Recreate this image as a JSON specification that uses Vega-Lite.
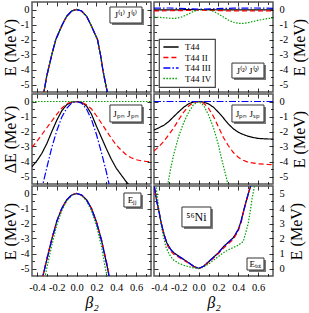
{
"$schema": "https://vega.github.io/schema/vega-lite/v6.json",
"background": "white",
"padding": {"left": 1, "top": 0, "right": 0, "bottom": 0},
"columns": 2,
"spacing": {"row": 2, "column": 3},
"bounds": "flush",
"config": {
  "view": {"stroke": "#555", "strokeWidth": 1.5},
  "axis": {"domain": false, "grid": false, "tickColor": "#000", "tickWidth": 0.8, "labelFont": "Liberation Serif", "labelFontSize": 10.5, "labelColor": "#000", "labelOverlap": false, "labelFlush": false, "labelBound": false, "titleFont": "Liberation Serif", "titleFontWeight": "normal", "titleFontSize": 16, "titleColor": "#000"},
  "legend": {"orient": "none", "legendX": 127, "legendY": 37, "fillColor": "white", "strokeColor": "#444", "strokeWidth": 1.2, "padding": 3, "labelFont": "Liberation Serif", "labelFontSize": 9, "labelColor": "#000", "symbolType": "M-1.9,0H1.9", "symbolSize": 64, "symbolStrokeWidth": 1.3, "symbolOffset": 4, "rowPadding": 0.5, "labelOffset": 9},
  "text": {"font": "Liberation Serif"}
},
"datasets": {
"notes": [
{"p":"a","t":"J⁽¹⁾ J⁽¹⁾","x":0.497,"y":-0.37,"x1":0.336,"x2":0.659,"y1":0.167,"y2":-0.9},
{"p":"b","t":"J⁽²⁾ J⁽²⁾","x":0.497,"y":-4.07,"x1":0.336,"x2":0.659,"y1":-3.57,"y2":-4.57},
{"p":"c","t":"Jₚₙ Jₚₙ","x":0.497,"y":-0.8,"x1":0.336,"x2":0.659,"y1":-0.233,"y2":-1.367},
{"p":"d","t":"Jₚₙ Jₛₚ","x":0.497,"y":-0.8,"x1":0.336,"x2":0.659,"y1":-0.233,"y2":-1.367},
{"p":"e","t":"Eⱼⱼ","x":0.563,"y":-0.43,"x1":0.477,"x2":0.649,"y1":0.033,"y2":-0.9},
{"p":"f","t":"⁵⁶Ni","x":-0.022,"y":3.43,"x1":-0.168,"x2":0.124,"y1":4.1,"y2":2.77},
{"p":"f","t":"Eₜₒₜ","x":0.573,"y":0.3,"x1":0.488,"x2":0.659,"y1":0.7,"y2":-0.1}
],
"curves": [
{"p":"a","m":"T44","b":-0.35,"e":-6},{"p":"a","m":"T44","b":-0.33,"e":-5.5},{"p":"a","m":"T44","b":-0.3,"e":-4.4},{"p":"a","m":"T44","b":-0.25,"e":-3},{"p":"a","m":"T44","b":-0.21,"e":-2},{"p":"a","m":"T44","b":-0.144,"e":-1},{"p":"a","m":"T44","b":-0.1,"e":-0.45},{"p":"a","m":"T44","b":-0.05,"e":-0.1},{"p":"a","m":"T44","b":0,"e":0},{"p":"a","m":"T44","b":0.05,"e":-0.1},{"p":"a","m":"T44","b":0.1,"e":-0.45},{"p":"a","m":"T44","b":0.142,"e":-1},{"p":"a","m":"T44","b":0.21,"e":-2},{"p":"a","m":"T44","b":0.24,"e":-3},{"p":"a","m":"T44","b":0.264,"e":-4},{"p":"a","m":"T44","b":0.29,"e":-4.9},{"p":"a","m":"T44","b":0.31,"e":-5.5},{"p":"a","m":"T44","b":0.33,"e":-6.2},
{"p":"a","m":"T44 II","b":-0.35,"e":-6},{"p":"a","m":"T44 II","b":-0.33,"e":-5.5},{"p":"a","m":"T44 II","b":-0.3,"e":-4.4},{"p":"a","m":"T44 II","b":-0.25,"e":-3},{"p":"a","m":"T44 II","b":-0.21,"e":-2},{"p":"a","m":"T44 II","b":-0.144,"e":-1},{"p":"a","m":"T44 II","b":-0.1,"e":-0.45},{"p":"a","m":"T44 II","b":-0.05,"e":-0.1},{"p":"a","m":"T44 II","b":0,"e":0},{"p":"a","m":"T44 II","b":0.05,"e":-0.1},{"p":"a","m":"T44 II","b":0.1,"e":-0.45},{"p":"a","m":"T44 II","b":0.142,"e":-1},{"p":"a","m":"T44 II","b":0.21,"e":-2},{"p":"a","m":"T44 II","b":0.24,"e":-3},{"p":"a","m":"T44 II","b":0.264,"e":-4},{"p":"a","m":"T44 II","b":0.29,"e":-4.9},{"p":"a","m":"T44 II","b":0.31,"e":-5.5},{"p":"a","m":"T44 II","b":0.33,"e":-6.2},
{"p":"a","m":"T44 IV","b":-0.35,"e":-6},{"p":"a","m":"T44 IV","b":-0.33,"e":-5.5},{"p":"a","m":"T44 IV","b":-0.3,"e":-4.4},{"p":"a","m":"T44 IV","b":-0.25,"e":-3},{"p":"a","m":"T44 IV","b":-0.21,"e":-2},{"p":"a","m":"T44 IV","b":-0.144,"e":-1},{"p":"a","m":"T44 IV","b":-0.1,"e":-0.45},{"p":"a","m":"T44 IV","b":-0.05,"e":-0.1},{"p":"a","m":"T44 IV","b":0,"e":0},{"p":"a","m":"T44 IV","b":0.05,"e":-0.1},{"p":"a","m":"T44 IV","b":0.1,"e":-0.45},{"p":"a","m":"T44 IV","b":0.142,"e":-1},{"p":"a","m":"T44 IV","b":0.21,"e":-2},{"p":"a","m":"T44 IV","b":0.24,"e":-3},{"p":"a","m":"T44 IV","b":0.264,"e":-4},{"p":"a","m":"T44 IV","b":0.29,"e":-4.9},{"p":"a","m":"T44 IV","b":0.31,"e":-5.5},{"p":"a","m":"T44 IV","b":0.33,"e":-6.2},
{"p":"a","m":"T44 III","b":-0.35,"e":-6},{"p":"a","m":"T44 III","b":-0.33,"e":-5.5},{"p":"a","m":"T44 III","b":-0.3,"e":-4.4},{"p":"a","m":"T44 III","b":-0.25,"e":-3},{"p":"a","m":"T44 III","b":-0.21,"e":-2},{"p":"a","m":"T44 III","b":-0.144,"e":-1},{"p":"a","m":"T44 III","b":-0.1,"e":-0.45},{"p":"a","m":"T44 III","b":-0.05,"e":-0.1},{"p":"a","m":"T44 III","b":0,"e":0},{"p":"a","m":"T44 III","b":0.05,"e":-0.1},{"p":"a","m":"T44 III","b":0.1,"e":-0.45},{"p":"a","m":"T44 III","b":0.142,"e":-1},{"p":"a","m":"T44 III","b":0.21,"e":-2},{"p":"a","m":"T44 III","b":0.24,"e":-3},{"p":"a","m":"T44 III","b":0.264,"e":-4},{"p":"a","m":"T44 III","b":0.29,"e":-4.9},{"p":"a","m":"T44 III","b":0.31,"e":-5.5},{"p":"a","m":"T44 III","b":0.33,"e":-6.2},

{"p":"b","m":"T44","b":-0.45,"e":-0.02},{"p":"b","m":"T44","b":-0.2,"e":-0.02},{"p":"b","m":"T44","b":0,"e":0},{"p":"b","m":"T44","b":0.3,"e":-0.03},{"p":"b","m":"T44","b":0.75,"e":-0.03},
{"p":"b","m":"T44 II","b":-0.45,"e":-0.09},{"p":"b","m":"T44 II","b":-0.2,"e":-0.08},{"p":"b","m":"T44 II","b":0,"e":-0.04},{"p":"b","m":"T44 II","b":0.3,"e":-0.09},{"p":"b","m":"T44 II","b":0.75,"e":-0.09},
{"p":"b","m":"T44 IV","b":-0.45,"e":-0.5},{"p":"b","m":"T44 IV","b":-0.35,"e":-0.55},{"p":"b","m":"T44 IV","b":-0.25,"e":-0.6},{"p":"b","m":"T44 IV","b":-0.18,"e":-0.52},{"p":"b","m":"T44 IV","b":-0.1,"e":-0.3},{"p":"b","m":"T44 IV","b":-0.05,"e":-0.12},{"p":"b","m":"T44 IV","b":0,"e":-0.03},{"p":"b","m":"T44 IV","b":0.05,"e":0},{"p":"b","m":"T44 IV","b":0.1,"e":-0.02},{"p":"b","m":"T44 IV","b":0.15,"e":-0.12},{"p":"b","m":"T44 IV","b":0.2,"e":-0.3},{"p":"b","m":"T44 IV","b":0.25,"e":-0.5},{"p":"b","m":"T44 IV","b":0.3,"e":-0.7},{"p":"b","m":"T44 IV","b":0.35,"e":-0.85},{"p":"b","m":"T44 IV","b":0.4,"e":-0.92},{"p":"b","m":"T44 IV","b":0.45,"e":-0.93},{"p":"b","m":"T44 IV","b":0.5,"e":-0.88},{"p":"b","m":"T44 IV","b":0.6,"e":-0.72},{"p":"b","m":"T44 IV","b":0.7,"e":-0.6},{"p":"b","m":"T44 IV","b":0.75,"e":-0.58},
{"p":"b","m":"T44 III","b":-0.45,"e":0.09},{"p":"b","m":"T44 III","b":-0.3,"e":0.1},{"p":"b","m":"T44 III","b":-0.1,"e":0.05},{"p":"b","m":"T44 III","b":0,"e":0.02},{"p":"b","m":"T44 III","b":0.15,"e":0.05},{"p":"b","m":"T44 III","b":0.35,"e":0.09},{"p":"b","m":"T44 III","b":0.55,"e":0.1},{"p":"b","m":"T44 III","b":0.75,"e":0.08},

{"p":"c","m":"T44","b":-0.45,"e":-4.35},{"p":"c","m":"T44","b":-0.4,"e":-3.95},{"p":"c","m":"T44","b":-0.35,"e":-3.45},{"p":"c","m":"T44","b":-0.3,"e":-2.8},{"p":"c","m":"T44","b":-0.25,"e":-2},{"p":"c","m":"T44","b":-0.2,"e":-1.25},{"p":"c","m":"T44","b":-0.15,"e":-0.62},{"p":"c","m":"T44","b":-0.1,"e":-0.22},{"p":"c","m":"T44","b":-0.05,"e":-0.04},{"p":"c","m":"T44","b":0,"e":0},{"p":"c","m":"T44","b":0.05,"e":-0.06},{"p":"c","m":"T44","b":0.1,"e":-0.3},{"p":"c","m":"T44","b":0.15,"e":-0.85},{"p":"c","m":"T44","b":0.2,"e":-1.65},{"p":"c","m":"T44","b":0.25,"e":-2.4},{"p":"c","m":"T44","b":0.3,"e":-3.15},{"p":"c","m":"T44","b":0.35,"e":-3.85},{"p":"c","m":"T44","b":0.4,"e":-4.45},{"p":"c","m":"T44","b":0.45,"e":-4.9},{"p":"c","m":"T44","b":0.5,"e":-5.35},{"p":"c","m":"T44","b":0.55,"e":-5.7},
{"p":"c","m":"T44 II","b":-0.45,"e":-3.05},{"p":"c","m":"T44 II","b":-0.4,"e":-2.65},{"p":"c","m":"T44 II","b":-0.35,"e":-2.2},{"p":"c","m":"T44 II","b":-0.3,"e":-1.75},{"p":"c","m":"T44 II","b":-0.25,"e":-1.3},{"p":"c","m":"T44 II","b":-0.2,"e":-0.85},{"p":"c","m":"T44 II","b":-0.15,"e":-0.45},{"p":"c","m":"T44 II","b":-0.1,"e":-0.15},{"p":"c","m":"T44 II","b":-0.05,"e":-0.03},{"p":"c","m":"T44 II","b":0,"e":0},{"p":"c","m":"T44 II","b":0.05,"e":-0.05},{"p":"c","m":"T44 II","b":0.1,"e":-0.22},{"p":"c","m":"T44 II","b":0.15,"e":-0.5},{"p":"c","m":"T44 II","b":0.2,"e":-0.95},{"p":"c","m":"T44 II","b":0.25,"e":-1.45},{"p":"c","m":"T44 II","b":0.3,"e":-1.95},{"p":"c","m":"T44 II","b":0.35,"e":-2.45},{"p":"c","m":"T44 II","b":0.4,"e":-2.9},{"p":"c","m":"T44 II","b":0.45,"e":-3.25},{"p":"c","m":"T44 II","b":0.5,"e":-3.55},{"p":"c","m":"T44 II","b":0.55,"e":-3.75},{"p":"c","m":"T44 II","b":0.6,"e":-3.88},{"p":"c","m":"T44 II","b":0.65,"e":-3.95},{"p":"c","m":"T44 II","b":0.7,"e":-4},{"p":"c","m":"T44 II","b":0.75,"e":-4},
{"p":"c","m":"T44 IV","b":-0.45,"e":0},{"p":"c","m":"T44 IV","b":0.75,"e":0},
{"p":"c","m":"T44 III","b":-0.36,"e":-6},{"p":"c","m":"T44 III","b":-0.34,"e":-5.5},{"p":"c","m":"T44 III","b":-0.3,"e":-4.4},{"p":"c","m":"T44 III","b":-0.25,"e":-3.05},{"p":"c","m":"T44 III","b":-0.2,"e":-1.95},{"p":"c","m":"T44 III","b":-0.15,"e":-1.05},{"p":"c","m":"T44 III","b":-0.1,"e":-0.45},{"p":"c","m":"T44 III","b":-0.05,"e":-0.1},{"p":"c","m":"T44 III","b":0,"e":0},{"p":"c","m":"T44 III","b":0.05,"e":-0.12},{"p":"c","m":"T44 III","b":0.1,"e":-0.5},{"p":"c","m":"T44 III","b":0.15,"e":-1.2},{"p":"c","m":"T44 III","b":0.2,"e":-2.2},{"p":"c","m":"T44 III","b":0.25,"e":-3.4},{"p":"c","m":"T44 III","b":0.3,"e":-4.7},{"p":"c","m":"T44 III","b":0.33,"e":-5.6},{"p":"c","m":"T44 III","b":0.35,"e":-6.2},

{"p":"d","m":"T44","b":-0.45,"e":-1.9},{"p":"d","m":"T44","b":-0.4,"e":-1.75},{"p":"d","m":"T44","b":-0.35,"e":-1.58},{"p":"d","m":"T44","b":-0.3,"e":-1.33},{"p":"d","m":"T44","b":-0.25,"e":-1},{"p":"d","m":"T44","b":-0.2,"e":-0.68},{"p":"d","m":"T44","b":-0.15,"e":-0.38},{"p":"d","m":"T44","b":-0.1,"e":-0.15},{"p":"d","m":"T44","b":-0.05,"e":-0.03},{"p":"d","m":"T44","b":0,"e":0},{"p":"d","m":"T44","b":0.05,"e":-0.04},{"p":"d","m":"T44","b":0.1,"e":-0.16},{"p":"d","m":"T44","b":0.15,"e":-0.38},{"p":"d","m":"T44","b":0.2,"e":-0.72},{"p":"d","m":"T44","b":0.25,"e":-1.1},{"p":"d","m":"T44","b":0.3,"e":-1.5},{"p":"d","m":"T44","b":0.35,"e":-1.82},{"p":"d","m":"T44","b":0.4,"e":-2.05},{"p":"d","m":"T44","b":0.45,"e":-2.2},{"p":"d","m":"T44","b":0.5,"e":-2.32},{"p":"d","m":"T44","b":0.55,"e":-2.4},{"p":"d","m":"T44","b":0.6,"e":-2.46},{"p":"d","m":"T44","b":0.7,"e":-2.5},{"p":"d","m":"T44","b":0.75,"e":-2.5},
{"p":"d","m":"T44 II","b":-0.45,"e":-3.3},{"p":"d","m":"T44 II","b":-0.4,"e":-3},{"p":"d","m":"T44 II","b":-0.35,"e":-2.65},{"p":"d","m":"T44 II","b":-0.3,"e":-2.2},{"p":"d","m":"T44 II","b":-0.25,"e":-1.75},{"p":"d","m":"T44 II","b":-0.2,"e":-1.2},{"p":"d","m":"T44 II","b":-0.15,"e":-0.7},{"p":"d","m":"T44 II","b":-0.1,"e":-0.3},{"p":"d","m":"T44 II","b":-0.05,"e":-0.07},{"p":"d","m":"T44 II","b":0,"e":0},{"p":"d","m":"T44 II","b":0.05,"e":-0.1},{"p":"d","m":"T44 II","b":0.1,"e":-0.45},{"p":"d","m":"T44 II","b":0.15,"e":-1},{"p":"d","m":"T44 II","b":0.2,"e":-1.7},{"p":"d","m":"T44 II","b":0.25,"e":-2.4},{"p":"d","m":"T44 II","b":0.3,"e":-2.95},{"p":"d","m":"T44 II","b":0.35,"e":-3.4},{"p":"d","m":"T44 II","b":0.4,"e":-3.72},{"p":"d","m":"T44 II","b":0.45,"e":-3.92},{"p":"d","m":"T44 II","b":0.5,"e":-4.05},{"p":"d","m":"T44 II","b":0.6,"e":-4.15},{"p":"d","m":"T44 II","b":0.7,"e":-4.2},{"p":"d","m":"T44 II","b":0.75,"e":-4.22},
{"p":"d","m":"T44 IV","b":-0.33,"e":-6.2},{"p":"d","m":"T44 IV","b":-0.31,"e":-5.5},{"p":"d","m":"T44 IV","b":-0.28,"e":-4.4},{"p":"d","m":"T44 IV","b":-0.25,"e":-3.5},{"p":"d","m":"T44 IV","b":-0.2,"e":-2.3},{"p":"d","m":"T44 IV","b":-0.15,"e":-1.4},{"p":"d","m":"T44 IV","b":-0.1,"e":-0.7},{"p":"d","m":"T44 IV","b":-0.05,"e":-0.2},{"p":"d","m":"T44 IV","b":0,"e":0},{"p":"d","m":"T44 IV","b":0.05,"e":-0.25},{"p":"d","m":"T44 IV","b":0.1,"e":-0.9},{"p":"d","m":"T44 IV","b":0.15,"e":-1.75},{"p":"d","m":"T44 IV","b":0.2,"e":-2.9},{"p":"d","m":"T44 IV","b":0.22,"e":-3.5},{"p":"d","m":"T44 IV","b":0.25,"e":-4.3},{"p":"d","m":"T44 IV","b":0.28,"e":-5.1},{"p":"d","m":"T44 IV","b":0.3,"e":-5.6},{"p":"d","m":"T44 IV","b":0.32,"e":-6.2},
{"p":"d","m":"T44 III","b":-0.45,"e":0},{"p":"d","m":"T44 III","b":0.75,"e":0},

{"p":"e","m":"T44","b":-0.36,"e":-6},{"p":"e","m":"T44","b":-0.34,"e":-5.5},{"p":"e","m":"T44","b":-0.3,"e":-4.4},{"p":"e","m":"T44","b":-0.25,"e":-3.05},{"p":"e","m":"T44","b":-0.2,"e":-1.85},{"p":"e","m":"T44","b":-0.15,"e":-1},{"p":"e","m":"T44","b":-0.1,"e":-0.42},{"p":"e","m":"T44","b":-0.05,"e":-0.1},{"p":"e","m":"T44","b":0,"e":0},{"p":"e","m":"T44","b":0.05,"e":-0.1},{"p":"e","m":"T44","b":0.1,"e":-0.42},{"p":"e","m":"T44","b":0.15,"e":-1},{"p":"e","m":"T44","b":0.2,"e":-1.9},{"p":"e","m":"T44","b":0.25,"e":-3.1},{"p":"e","m":"T44","b":0.3,"e":-4.6},{"p":"e","m":"T44","b":0.33,"e":-5.6},{"p":"e","m":"T44","b":0.35,"e":-6.3},
{"p":"e","m":"T44 II","b":-0.36,"e":-6},{"p":"e","m":"T44 II","b":-0.34,"e":-5.5},{"p":"e","m":"T44 II","b":-0.3,"e":-4.3},{"p":"e","m":"T44 II","b":-0.25,"e":-3},{"p":"e","m":"T44 II","b":-0.2,"e":-1.85},{"p":"e","m":"T44 II","b":-0.15,"e":-1},{"p":"e","m":"T44 II","b":-0.1,"e":-0.42},{"p":"e","m":"T44 II","b":-0.05,"e":-0.1},{"p":"e","m":"T44 II","b":0,"e":0},{"p":"e","m":"T44 II","b":0.05,"e":-0.1},{"p":"e","m":"T44 II","b":0.1,"e":-0.42},{"p":"e","m":"T44 II","b":0.15,"e":-1},{"p":"e","m":"T44 II","b":0.2,"e":-1.9},{"p":"e","m":"T44 II","b":0.25,"e":-3.05},{"p":"e","m":"T44 II","b":0.3,"e":-4.5},{"p":"e","m":"T44 II","b":0.33,"e":-5.5},{"p":"e","m":"T44 II","b":0.35,"e":-6.3},
{"p":"e","m":"T44 IV","b":-0.34,"e":-6.2},{"p":"e","m":"T44 IV","b":-0.32,"e":-5.6},{"p":"e","m":"T44 IV","b":-0.3,"e":-4.95},{"p":"e","m":"T44 IV","b":-0.25,"e":-3.45},{"p":"e","m":"T44 IV","b":-0.2,"e":-2.1},{"p":"e","m":"T44 IV","b":-0.15,"e":-1.15},{"p":"e","m":"T44 IV","b":-0.1,"e":-0.5},{"p":"e","m":"T44 IV","b":-0.05,"e":-0.12},{"p":"e","m":"T44 IV","b":0,"e":0},{"p":"e","m":"T44 IV","b":0.05,"e":-0.12},{"p":"e","m":"T44 IV","b":0.1,"e":-0.5},{"p":"e","m":"T44 IV","b":0.15,"e":-1.15},{"p":"e","m":"T44 IV","b":0.2,"e":-2.15},{"p":"e","m":"T44 IV","b":0.25,"e":-3.5},{"p":"e","m":"T44 IV","b":0.29,"e":-5},{"p":"e","m":"T44 IV","b":0.31,"e":-5.6},{"p":"e","m":"T44 IV","b":0.33,"e":-6.3},
{"p":"e","m":"T44 III","b":-0.36,"e":-6},{"p":"e","m":"T44 III","b":-0.34,"e":-5.5},{"p":"e","m":"T44 III","b":-0.3,"e":-4.4},{"p":"e","m":"T44 III","b":-0.25,"e":-3.05},{"p":"e","m":"T44 III","b":-0.2,"e":-1.85},{"p":"e","m":"T44 III","b":-0.15,"e":-1},{"p":"e","m":"T44 III","b":-0.1,"e":-0.42},{"p":"e","m":"T44 III","b":-0.05,"e":-0.1},{"p":"e","m":"T44 III","b":0,"e":0},{"p":"e","m":"T44 III","b":0.05,"e":-0.1},{"p":"e","m":"T44 III","b":0.1,"e":-0.42},{"p":"e","m":"T44 III","b":0.15,"e":-1},{"p":"e","m":"T44 III","b":0.2,"e":-1.9},{"p":"e","m":"T44 III","b":0.25,"e":-3.1},{"p":"e","m":"T44 III","b":0.3,"e":-4.6},{"p":"e","m":"T44 III","b":0.33,"e":-5.6},{"p":"e","m":"T44 III","b":0.35,"e":-6.3},

{"p":"f","m":"T44","b":-0.46,"e":6.3},{"p":"f","m":"T44","b":-0.45,"e":5.6},{"p":"f","m":"T44","b":-0.42,"e":4.4},{"p":"f","m":"T44","b":-0.4,"e":3.8},{"p":"f","m":"T44","b":-0.38,"e":3.1},{"p":"f","m":"T44","b":-0.35,"e":2.3},{"p":"f","m":"T44","b":-0.32,"e":1.7},{"p":"f","m":"T44","b":-0.28,"e":1.25},{"p":"f","m":"T44","b":-0.25,"e":1.05},{"p":"f","m":"T44","b":-0.2,"e":0.82},{"p":"f","m":"T44","b":-0.15,"e":0.6},{"p":"f","m":"T44","b":-0.1,"e":0.38},{"p":"f","m":"T44","b":-0.05,"e":0.15},{"p":"f","m":"T44","b":0,"e":0},{"p":"f","m":"T44","b":0.05,"e":0.15},{"p":"f","m":"T44","b":0.1,"e":0.45},{"p":"f","m":"T44","b":0.15,"e":0.75},{"p":"f","m":"T44","b":0.2,"e":1.05},{"p":"f","m":"T44","b":0.25,"e":1.45},{"p":"f","m":"T44","b":0.3,"e":1.75},{"p":"f","m":"T44","b":0.35,"e":2.05},{"p":"f","m":"T44","b":0.4,"e":2.6},{"p":"f","m":"T44","b":0.43,"e":3.2},{"p":"f","m":"T44","b":0.45,"e":3.75},{"p":"f","m":"T44","b":0.48,"e":4.5},{"p":"f","m":"T44","b":0.51,"e":5.2},{"p":"f","m":"T44","b":0.53,"e":5.6},{"p":"f","m":"T44","b":0.55,"e":6.1},
{"p":"f","m":"T44 II","b":-0.46,"e":6.3},{"p":"f","m":"T44 II","b":-0.45,"e":5.6},{"p":"f","m":"T44 II","b":-0.42,"e":4.4},{"p":"f","m":"T44 II","b":-0.4,"e":3.8},{"p":"f","m":"T44 II","b":-0.38,"e":3.1},{"p":"f","m":"T44 II","b":-0.35,"e":2.25},{"p":"f","m":"T44 II","b":-0.32,"e":1.6},{"p":"f","m":"T44 II","b":-0.28,"e":1.15},{"p":"f","m":"T44 II","b":-0.25,"e":0.95},{"p":"f","m":"T44 II","b":-0.2,"e":0.75},{"p":"f","m":"T44 II","b":-0.15,"e":0.55},{"p":"f","m":"T44 II","b":-0.1,"e":0.35},{"p":"f","m":"T44 II","b":-0.05,"e":0.12},{"p":"f","m":"T44 II","b":0,"e":0},{"p":"f","m":"T44 II","b":0.05,"e":0.13},{"p":"f","m":"T44 II","b":0.1,"e":0.42},{"p":"f","m":"T44 II","b":0.15,"e":0.7},{"p":"f","m":"T44 II","b":0.2,"e":1},{"p":"f","m":"T44 II","b":0.25,"e":1.35},{"p":"f","m":"T44 II","b":0.3,"e":1.65},{"p":"f","m":"T44 II","b":0.35,"e":1.95},{"p":"f","m":"T44 II","b":0.4,"e":2.5},{"p":"f","m":"T44 II","b":0.43,"e":3.1},{"p":"f","m":"T44 II","b":0.45,"e":3.7},{"p":"f","m":"T44 II","b":0.48,"e":4.45},{"p":"f","m":"T44 II","b":0.51,"e":5.2},{"p":"f","m":"T44 II","b":0.53,"e":5.6},{"p":"f","m":"T44 II","b":0.55,"e":6.1},
{"p":"f","m":"T44 IV","b":-0.445,"e":6},{"p":"f","m":"T44 IV","b":-0.43,"e":5.5},{"p":"f","m":"T44 IV","b":-0.4,"e":3.9},{"p":"f","m":"T44 IV","b":-0.37,"e":2.6},{"p":"f","m":"T44 IV","b":-0.35,"e":2},{"p":"f","m":"T44 IV","b":-0.33,"e":1.45},{"p":"f","m":"T44 IV","b":-0.3,"e":1},{"p":"f","m":"T44 IV","b":-0.28,"e":0.78},{"p":"f","m":"T44 IV","b":-0.25,"e":0.55},{"p":"f","m":"T44 IV","b":-0.2,"e":0.35},{"p":"f","m":"T44 IV","b":-0.15,"e":0.22},{"p":"f","m":"T44 IV","b":-0.1,"e":0.12},{"p":"f","m":"T44 IV","b":-0.05,"e":0.04},{"p":"f","m":"T44 IV","b":0,"e":0},{"p":"f","m":"T44 IV","b":0.05,"e":0.1},{"p":"f","m":"T44 IV","b":0.1,"e":0.3},{"p":"f","m":"T44 IV","b":0.15,"e":0.55},{"p":"f","m":"T44 IV","b":0.2,"e":0.8},{"p":"f","m":"T44 IV","b":0.25,"e":1.05},{"p":"f","m":"T44 IV","b":0.3,"e":1.25},{"p":"f","m":"T44 IV","b":0.35,"e":1.4},{"p":"f","m":"T44 IV","b":0.4,"e":1.55},{"p":"f","m":"T44 IV","b":0.45,"e":1.8},{"p":"f","m":"T44 IV","b":0.48,"e":2.5},{"p":"f","m":"T44 IV","b":0.5,"e":3},{"p":"f","m":"T44 IV","b":0.52,"e":3.8},{"p":"f","m":"T44 IV","b":0.54,"e":4.7},{"p":"f","m":"T44 IV","b":0.56,"e":5.4},{"p":"f","m":"T44 IV","b":0.58,"e":6},
{"p":"f","m":"T44 III","b":-0.46,"e":6.3},{"p":"f","m":"T44 III","b":-0.45,"e":5.6},{"p":"f","m":"T44 III","b":-0.42,"e":4.4},{"p":"f","m":"T44 III","b":-0.4,"e":3.8},{"p":"f","m":"T44 III","b":-0.38,"e":3.1},{"p":"f","m":"T44 III","b":-0.35,"e":2.3},{"p":"f","m":"T44 III","b":-0.32,"e":1.7},{"p":"f","m":"T44 III","b":-0.28,"e":1.25},{"p":"f","m":"T44 III","b":-0.25,"e":1.05},{"p":"f","m":"T44 III","b":-0.2,"e":0.82},{"p":"f","m":"T44 III","b":-0.15,"e":0.6},{"p":"f","m":"T44 III","b":-0.1,"e":0.38},{"p":"f","m":"T44 III","b":-0.05,"e":0.15},{"p":"f","m":"T44 III","b":0,"e":0},{"p":"f","m":"T44 III","b":0.05,"e":0.15},{"p":"f","m":"T44 III","b":0.1,"e":0.45},{"p":"f","m":"T44 III","b":0.15,"e":0.75},{"p":"f","m":"T44 III","b":0.2,"e":1.05},{"p":"f","m":"T44 III","b":0.25,"e":1.45},{"p":"f","m":"T44 III","b":0.3,"e":1.75},{"p":"f","m":"T44 III","b":0.35,"e":2.05},{"p":"f","m":"T44 III","b":0.4,"e":2.6},{"p":"f","m":"T44 III","b":0.43,"e":3.2},{"p":"f","m":"T44 III","b":0.45,"e":3.75},{"p":"f","m":"T44 III","b":0.48,"e":4.5},{"p":"f","m":"T44 III","b":0.51,"e":5.2},{"p":"f","m":"T44 III","b":0.53,"e":5.6},{"p":"f","m":"T44 III","b":0.55,"e":6.1}
]
},
"concat": [
{
 "width": 119, "height": 90,
 "layer": [
  {"data": {"name": "curves"}, "transform": [{"filter": "datum.p == 'a'"}],
   "mark": {"type": "line", "clip": true, "strokeWidth": 1.2},
   "encoding": {
    "x": {"field": "b", "type": "quantitative", "scale": {"domain": [-0.45, 0.75], "nice": false, "zero": false},
          "axis": {"orient": "bottom", "values": [-0.4,-0.3,-0.2,-0.1,0,0.1,0.2,0.3,0.4,0.5,0.6,0.7], "labels": false, "title": null, "tickSize": {"condition": {"test": "round(datum.value*10) % 2 == 0", "value": -4}, "value": -2.5}}},
    "y": {"field": "e", "type": "quantitative", "scale": {"domain": [-5.5, 0.5], "nice": false, "zero": false},
          "axis": {"orient": "left", "values": [-5,-4.5,-4,-3.5,-3,-2.5,-2,-1.5,-1,-0.5,0], "labelExpr": "datum.value == round(datum.value) ? (datum.value < 0 ? '-' : '') + abs(datum.value) : ''", "labelPadding": 7, "tickSize": {"condition": {"test": "datum.value == round(datum.value)", "value": -4}, "value": -2.5}, "title": "E (MeV)", "titlePadding": 2}},
    "color": {"field": "m", "type": "nominal", "scale": {"domain": ["T44","T44 II","T44 III","T44 IV"], "range": ["#000000","#ff0000","#0000ff","#00a000"]}, "legend": {"title": null}},
    "strokeDash": {"field": "m", "type": "nominal", "scale": {"domain": ["T44","T44 II","T44 III","T44 IV"], "range": [[1,0],[5,3],[7,2,1.5,2],[1.5,1.5]]}, "legend": {"title": null}}
   }},
  {"data": {"name": "notes"}, "transform": [{"filter": "datum.p == 'a'"}],
   "mark": {"type": "rect", "fill": "#777", "xOffset": 2, "x2Offset": 2, "yOffset": 2, "y2Offset": 2},
   "encoding": {"x": {"field": "x1", "type": "quantitative", "axis": null}, "x2": {"field": "x2"}, "y": {"field": "y1", "type": "quantitative", "axis": null}, "y2": {"field": "y2"}}},
  {"data": {"name": "notes"}, "transform": [{"filter": "datum.p == 'a'"}],
   "mark": {"type": "rect", "fill": "white", "stroke": "#333", "strokeWidth": 1},
   "encoding": {"x": {"field": "x1", "type": "quantitative", "axis": null}, "x2": {"field": "x2"}, "y": {"field": "y1", "type": "quantitative", "axis": null}, "y2": {"field": "y2"}}},
  {"data": {"name": "notes"}, "transform": [{"filter": "datum.p == 'a'"}],
   "mark": {"type": "text", "fontSize": 9, "align": "center", "baseline": "middle", "color": "#000"},
   "encoding": {"text": {"field": "t"},
    "x": {"field": "x", "type": "quantitative", "axis": {"orient": "top", "values": [-0.4,-0.3,-0.2,-0.1,0,0.1,0.2,0.3,0.4,0.5,0.6,0.7], "labels": false, "title": null, "tickSize": {"condition": {"test": "round(datum.value*10) % 2 == 0", "value": -4}, "value": -2.5}}},
    "y": {"field": "y", "type": "quantitative", "axis": {"orient": "right", "values": [-5,-4.5,-4,-3.5,-3,-2.5,-2,-1.5,-1,-0.5,0], "labels": false, "title": null, "tickSize": {"condition": {"test": "datum.value == round(datum.value)", "value": -4}, "value": -2.5}}}}}
 ],
 "resolve": {"axis": {"x": "independent", "y": "independent"}}
},
{
 "width": 119, "height": 90,
 "layer": [
  {"data": {"name": "curves"}, "transform": [{"filter": "datum.p == 'b'"}],
   "mark": {"type": "line", "clip": true, "strokeWidth": 1.2},
   "encoding": {
    "x": {"field": "b", "type": "quantitative", "scale": {"domain": [-0.45, 0.75], "nice": false, "zero": false},
          "axis": {"orient": "bottom", "values": [-0.4,-0.3,-0.2,-0.1,0,0.1,0.2,0.3,0.4,0.5,0.6,0.7], "labels": false, "title": null, "tickSize": {"condition": {"test": "round(datum.value*10) % 2 == 0", "value": -4}, "value": -2.5}}},
    "y": {"field": "e", "type": "quantitative", "scale": {"domain": [-5.5, 0.5], "nice": false, "zero": false},
          "axis": {"orient": "right", "values": [-5,-4.5,-4,-3.5,-3,-2.5,-2,-1.5,-1,-0.5,0], "labelExpr": "datum.value == round(datum.value) ? (datum.value < 0 ? '-' : '') + abs(datum.value) : ''", "labelPadding": 10, "tickSize": {"condition": {"test": "datum.value == round(datum.value)", "value": -4}, "value": -2.5}, "title": "E (MeV)", "titleAngle": 270, "titleBaseline": "top", "titlePadding": 4}},
    "color": {"field": "m", "type": "nominal", "scale": {"domain": ["T44","T44 II","T44 III","T44 IV"], "range": ["#000000","#ff0000","#0000ff","#00a000"]}, "legend": {"title": null}},
    "strokeDash": {"field": "m", "type": "nominal", "scale": {"domain": ["T44","T44 II","T44 III","T44 IV"], "range": [[1,0],[5,3],[7,2,1.5,2],[1.5,1.5]]}, "legend": {"title": null}}
   }},
  {"data": {"name": "notes"}, "transform": [{"filter": "datum.p == 'b'"}],
   "mark": {"type": "rect", "fill": "#777", "xOffset": 2, "x2Offset": 2, "yOffset": 2, "y2Offset": 2},
   "encoding": {"x": {"field": "x1", "type": "quantitative", "axis": null}, "x2": {"field": "x2"}, "y": {"field": "y1", "type": "quantitative", "axis": null}, "y2": {"field": "y2"}}},
  {"data": {"name": "notes"}, "transform": [{"filter": "datum.p == 'b'"}],
   "mark": {"type": "rect", "fill": "white", "stroke": "#333", "strokeWidth": 1},
   "encoding": {"x": {"field": "x1", "type": "quantitative", "axis": null}, "x2": {"field": "x2"}, "y": {"field": "y1", "type": "quantitative", "axis": null}, "y2": {"field": "y2"}}},
  {"data": {"name": "notes"}, "transform": [{"filter": "datum.p == 'b'"}],
   "mark": {"type": "text", "fontSize": 9, "align": "center", "baseline": "middle", "color": "#000"},
   "encoding": {"text": {"field": "t"},
    "x": {"field": "x", "type": "quantitative", "axis": {"orient": "top", "values": [-0.4,-0.3,-0.2,-0.1,0,0.1,0.2,0.3,0.4,0.5,0.6,0.7], "labels": false, "title": null, "tickSize": {"condition": {"test": "round(datum.value*10) % 2 == 0", "value": -4}, "value": -2.5}}},
    "y": {"field": "y", "type": "quantitative", "axis": {"orient": "left", "values": [-5,-4.5,-4,-3.5,-3,-2.5,-2,-1.5,-1,-0.5,0], "labels": false, "title": null, "tickSize": {"condition": {"test": "datum.value == round(datum.value)", "value": -4}, "value": -2.5}}}}}
 ],
 "resolve": {"axis": {"x": "independent", "y": "independent"}}
},
{
 "width": 119, "height": 90,
 "layer": [
  {"data": {"name": "curves"}, "transform": [{"filter": "datum.p == 'c'"}],
   "mark": {"type": "line", "clip": true, "strokeWidth": 1.2},
   "encoding": {
    "x": {"field": "b", "type": "quantitative", "scale": {"domain": [-0.45, 0.75], "nice": false, "zero": false},
          "axis": {"orient": "bottom", "values": [-0.4,-0.3,-0.2,-0.1,0,0.1,0.2,0.3,0.4,0.5,0.6,0.7], "labels": false, "title": null, "tickSize": {"condition": {"test": "round(datum.value*10) % 2 == 0", "value": -4}, "value": -2.5}}},
    "y": {"field": "e", "type": "quantitative", "scale": {"domain": [-5.5, 0.5], "nice": false, "zero": false},
          "axis": {"orient": "left", "values": [-5,-4.5,-4,-3.5,-3,-2.5,-2,-1.5,-1,-0.5,0], "labelExpr": "datum.value == round(datum.value) ? (datum.value < 0 ? '-' : '') + abs(datum.value) : ''", "labelPadding": 7, "tickSize": {"condition": {"test": "datum.value == round(datum.value)", "value": -4}, "value": -2.5}, "title": "ΔE (MeV)", "titlePadding": 2}},
    "color": {"field": "m", "type": "nominal", "scale": {"domain": ["T44","T44 II","T44 III","T44 IV"], "range": ["#000000","#ff0000","#0000ff","#00a000"]}, "legend": {"title": null}},
    "strokeDash": {"field": "m", "type": "nominal", "scale": {"domain": ["T44","T44 II","T44 III","T44 IV"], "range": [[1,0],[5,3],[7,2,1.5,2],[1.5,1.5]]}, "legend": {"title": null}}
   }},
  {"data": {"name": "notes"}, "transform": [{"filter": "datum.p == 'c'"}],
   "mark": {"type": "rect", "fill": "#777", "xOffset": 2, "x2Offset": 2, "yOffset": 2, "y2Offset": 2},
   "encoding": {"x": {"field": "x1", "type": "quantitative", "axis": null}, "x2": {"field": "x2"}, "y": {"field": "y1", "type": "quantitative", "axis": null}, "y2": {"field": "y2"}}},
  {"data": {"name": "notes"}, "transform": [{"filter": "datum.p == 'c'"}],
   "mark": {"type": "rect", "fill": "white", "stroke": "#333", "strokeWidth": 1},
   "encoding": {"x": {"field": "x1", "type": "quantitative", "axis": null}, "x2": {"field": "x2"}, "y": {"field": "y1", "type": "quantitative", "axis": null}, "y2": {"field": "y2"}}},
  {"data": {"name": "notes"}, "transform": [{"filter": "datum.p == 'c'"}],
   "mark": {"type": "text", "fontSize": 9, "align": "center", "baseline": "middle", "color": "#000"},
   "encoding": {"text": {"field": "t"},
    "x": {"field": "x", "type": "quantitative", "axis": {"orient": "top", "values": [-0.4,-0.3,-0.2,-0.1,0,0.1,0.2,0.3,0.4,0.5,0.6,0.7], "labels": false, "title": null, "tickSize": {"condition": {"test": "round(datum.value*10) % 2 == 0", "value": -4}, "value": -2.5}}},
    "y": {"field": "y", "type": "quantitative", "axis": {"orient": "right", "values": [-5,-4.5,-4,-3.5,-3,-2.5,-2,-1.5,-1,-0.5,0], "labels": false, "title": null, "tickSize": {"condition": {"test": "datum.value == round(datum.value)", "value": -4}, "value": -2.5}}}}}
 ],
 "resolve": {"axis": {"x": "independent", "y": "independent"}}
},
{
 "width": 119, "height": 90,
 "layer": [
  {"data": {"name": "curves"}, "transform": [{"filter": "datum.p == 'd'"}],
   "mark": {"type": "line", "clip": true, "strokeWidth": 1.2},
   "encoding": {
    "x": {"field": "b", "type": "quantitative", "scale": {"domain": [-0.45, 0.75], "nice": false, "zero": false},
          "axis": {"orient": "bottom", "values": [-0.4,-0.3,-0.2,-0.1,0,0.1,0.2,0.3,0.4,0.5,0.6,0.7], "labels": false, "title": null, "tickSize": {"condition": {"test": "round(datum.value*10) % 2 == 0", "value": -4}, "value": -2.5}}},
    "y": {"field": "e", "type": "quantitative", "scale": {"domain": [-5.5, 0.5], "nice": false, "zero": false},
          "axis": {"orient": "right", "values": [-5,-4.5,-4,-3.5,-3,-2.5,-2,-1.5,-1,-0.5,0], "labelExpr": "datum.value == round(datum.value) ? (datum.value < 0 ? '-' : '') + abs(datum.value) : ''", "labelPadding": 10, "tickSize": {"condition": {"test": "datum.value == round(datum.value)", "value": -4}, "value": -2.5}, "title": "E (MeV)", "titleAngle": 270, "titleBaseline": "top", "titlePadding": 4}},
    "color": {"field": "m", "type": "nominal", "scale": {"domain": ["T44","T44 II","T44 III","T44 IV"], "range": ["#000000","#ff0000","#0000ff","#00a000"]}, "legend": {"title": null}},
    "strokeDash": {"field": "m", "type": "nominal", "scale": {"domain": ["T44","T44 II","T44 III","T44 IV"], "range": [[1,0],[5,3],[7,2,1.5,2],[1.5,1.5]]}, "legend": {"title": null}}
   }},
  {"data": {"name": "notes"}, "transform": [{"filter": "datum.p == 'd'"}],
   "mark": {"type": "rect", "fill": "#777", "xOffset": 2, "x2Offset": 2, "yOffset": 2, "y2Offset": 2},
   "encoding": {"x": {"field": "x1", "type": "quantitative", "axis": null}, "x2": {"field": "x2"}, "y": {"field": "y1", "type": "quantitative", "axis": null}, "y2": {"field": "y2"}}},
  {"data": {"name": "notes"}, "transform": [{"filter": "datum.p == 'd'"}],
   "mark": {"type": "rect", "fill": "white", "stroke": "#333", "strokeWidth": 1},
   "encoding": {"x": {"field": "x1", "type": "quantitative", "axis": null}, "x2": {"field": "x2"}, "y": {"field": "y1", "type": "quantitative", "axis": null}, "y2": {"field": "y2"}}},
  {"data": {"name": "notes"}, "transform": [{"filter": "datum.p == 'd'"}],
   "mark": {"type": "text", "fontSize": 9, "align": "center", "baseline": "middle", "color": "#000"},
   "encoding": {"text": {"field": "t"},
    "x": {"field": "x", "type": "quantitative", "axis": {"orient": "top", "values": [-0.4,-0.3,-0.2,-0.1,0,0.1,0.2,0.3,0.4,0.5,0.6,0.7], "labels": false, "title": null, "tickSize": {"condition": {"test": "round(datum.value*10) % 2 == 0", "value": -4}, "value": -2.5}}},
    "y": {"field": "y", "type": "quantitative", "axis": {"orient": "left", "values": [-5,-4.5,-4,-3.5,-3,-2.5,-2,-1.5,-1,-0.5,0], "labels": false, "title": null, "tickSize": {"condition": {"test": "datum.value == round(datum.value)", "value": -4}, "value": -2.5}}}}}
 ],
 "resolve": {"axis": {"x": "independent", "y": "independent"}}
},
{
 "width": 119, "height": 90,
 "layer": [
  {"data": {"name": "curves"}, "transform": [{"filter": "datum.p == 'e'"}],
   "mark": {"type": "line", "clip": true, "strokeWidth": 1.2},
   "encoding": {
    "x": {"field": "b", "type": "quantitative", "scale": {"domain": [-0.45, 0.75], "nice": false, "zero": false},
          "axis": {"orient": "bottom", "values": [-0.4,-0.3,-0.2,-0.1,0,0.1,0.2,0.3,0.4,0.5,0.6,0.7], "labelExpr": "round(datum.value*10) % 2 == 0 ? (datum.value < 0 ? '-' : '') + format(abs(datum.value), '.1f') : ''", "labelPadding": 10, "title": "β₂", "titleFontStyle": "italic", "titleFontSize": 16, "titlePadding": 0, "tickSize": {"condition": {"test": "round(datum.value*10) % 2 == 0", "value": -4}, "value": -2.5}}},
    "y": {"field": "e", "type": "quantitative", "scale": {"domain": [-5.5, 0.5], "nice": false, "zero": false},
          "axis": {"orient": "left", "values": [-5,-4.5,-4,-3.5,-3,-2.5,-2,-1.5,-1,-0.5,0], "labelExpr": "datum.value == round(datum.value) ? (datum.value < 0 ? '-' : '') + abs(datum.value) : ''", "labelPadding": 7, "tickSize": {"condition": {"test": "datum.value == round(datum.value)", "value": -4}, "value": -2.5}, "title": "E (MeV)", "titlePadding": 2}},
    "color": {"field": "m", "type": "nominal", "scale": {"domain": ["T44","T44 II","T44 III","T44 IV"], "range": ["#000000","#ff0000","#0000ff","#00a000"]}, "legend": {"title": null}},
    "strokeDash": {"field": "m", "type": "nominal", "scale": {"domain": ["T44","T44 II","T44 III","T44 IV"], "range": [[1,0],[5,3],[7,2,1.5,2],[1.5,1.5]]}, "legend": {"title": null}}
   }},
  {"data": {"name": "notes"}, "transform": [{"filter": "datum.p == 'e'"}],
   "mark": {"type": "rect", "fill": "#777", "xOffset": 2, "x2Offset": 2, "yOffset": 2, "y2Offset": 2},
   "encoding": {"x": {"field": "x1", "type": "quantitative", "axis": null}, "x2": {"field": "x2"}, "y": {"field": "y1", "type": "quantitative", "axis": null}, "y2": {"field": "y2"}}},
  {"data": {"name": "notes"}, "transform": [{"filter": "datum.p == 'e'"}],
   "mark": {"type": "rect", "fill": "white", "stroke": "#333", "strokeWidth": 1},
   "encoding": {"x": {"field": "x1", "type": "quantitative", "axis": null}, "x2": {"field": "x2"}, "y": {"field": "y1", "type": "quantitative", "axis": null}, "y2": {"field": "y2"}}},
  {"data": {"name": "notes"}, "transform": [{"filter": "datum.p == 'e'"}],
   "mark": {"type": "text", "fontSize": 9, "align": "center", "baseline": "middle", "color": "#000"},
   "encoding": {"text": {"field": "t"},
    "x": {"field": "x", "type": "quantitative", "axis": {"orient": "top", "values": [-0.4,-0.3,-0.2,-0.1,0,0.1,0.2,0.3,0.4,0.5,0.6,0.7], "labels": false, "title": null, "tickSize": {"condition": {"test": "round(datum.value*10) % 2 == 0", "value": -4}, "value": -2.5}}},
    "y": {"field": "y", "type": "quantitative", "axis": {"orient": "right", "values": [-5,-4.5,-4,-3.5,-3,-2.5,-2,-1.5,-1,-0.5,0], "labels": false, "title": null, "tickSize": {"condition": {"test": "datum.value == round(datum.value)", "value": -4}, "value": -2.5}}}}}
 ],
 "resolve": {"axis": {"x": "independent", "y": "independent"}}
},
{
 "width": 119, "height": 90,
 "layer": [
  {"data": {"name": "curves"}, "transform": [{"filter": "datum.p == 'f'"}],
   "mark": {"type": "line", "clip": true, "strokeWidth": 1.2},
   "encoding": {
    "x": {"field": "b", "type": "quantitative", "scale": {"domain": [-0.45, 0.75], "nice": false, "zero": false},
          "axis": {"orient": "bottom", "values": [-0.4,-0.3,-0.2,-0.1,0,0.1,0.2,0.3,0.4,0.5,0.6,0.7], "labelExpr": "round(datum.value*10) % 2 == 0 ? (datum.value < 0 ? '-' : '') + format(abs(datum.value), '.1f') : ''", "labelPadding": 10, "title": "β₂", "titleFontStyle": "italic", "titleFontSize": 16, "titlePadding": 0, "tickSize": {"condition": {"test": "round(datum.value*10) % 2 == 0", "value": -4}, "value": -2.5}}},
    "y": {"field": "e", "type": "quantitative", "scale": {"domain": [-0.5, 5.5], "nice": false, "zero": false},
          "axis": {"orient": "right", "values": [0,0.5,1,1.5,2,2.5,3,3.5,4,4.5,5], "labelExpr": "datum.value == round(datum.value) ? '' + datum.value : ''", "labelPadding": 10, "tickSize": {"condition": {"test": "datum.value == round(datum.value)", "value": -4}, "value": -2.5}, "title": "E (MeV)", "titleAngle": 270, "titleBaseline": "top", "titlePadding": 4}},
    "color": {"field": "m", "type": "nominal", "scale": {"domain": ["T44","T44 II","T44 III","T44 IV"], "range": ["#000000","#ff0000","#0000ff","#00a000"]}, "legend": {"title": null}},
    "strokeDash": {"field": "m", "type": "nominal", "scale": {"domain": ["T44","T44 II","T44 III","T44 IV"], "range": [[1,0],[5,3],[7,2,1.5,2],[1.5,1.5]]}, "legend": {"title": null}}
   }},
  {"data": {"name": "notes"}, "transform": [{"filter": "datum.p == 'f'"}],
   "mark": {"type": "rect", "fill": "#777", "xOffset": 2, "x2Offset": 2, "yOffset": 2, "y2Offset": 2},
   "encoding": {"x": {"field": "x1", "type": "quantitative", "axis": null}, "x2": {"field": "x2"}, "y": {"field": "y1", "type": "quantitative", "axis": null}, "y2": {"field": "y2"}}},
  {"data": {"name": "notes"}, "transform": [{"filter": "datum.p == 'f'"}],
   "mark": {"type": "rect", "fill": "white", "stroke": "#333", "strokeWidth": 1},
   "encoding": {"x": {"field": "x1", "type": "quantitative", "axis": null}, "x2": {"field": "x2"}, "y": {"field": "y1", "type": "quantitative", "axis": null}, "y2": {"field": "y2"}}},
  {"data": {"name": "notes"}, "transform": [{"filter": "datum.p == 'f'"}],
   "mark": {"type": "text", "align": "center", "baseline": "middle", "color": "#000"},
   "encoding": {"text": {"field": "t"},
    "size": {"condition": {"test": "datum.t == '⁵⁶Ni'", "value": 12}, "value": 9},
    "x": {"field": "x", "type": "quantitative", "axis": {"orient": "top", "values": [-0.4,-0.3,-0.2,-0.1,0,0.1,0.2,0.3,0.4,0.5,0.6,0.7], "labels": false, "title": null, "tickSize": {"condition": {"test": "round(datum.value*10) % 2 == 0", "value": -4}, "value": -2.5}}},
    "y": {"field": "y", "type": "quantitative", "axis": {"orient": "left", "values": [0,0.5,1,1.5,2,2.5,3,3.5,4,4.5,5], "labels": false, "title": null, "tickSize": {"condition": {"test": "datum.value == round(datum.value)", "value": -4}, "value": -2.5}}}}}
 ],
 "resolve": {"axis": {"x": "independent", "y": "independent"}}
}
]
}
